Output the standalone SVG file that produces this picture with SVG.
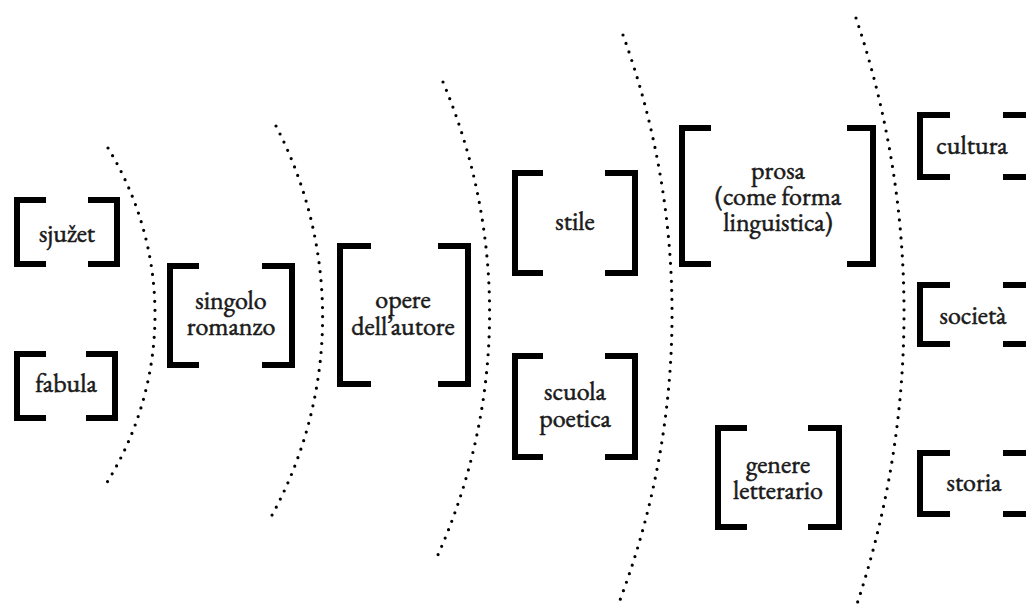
<svg xmlns="http://www.w3.org/2000/svg" width="1026" height="612" viewBox="0 0 1026 612">
<style>
.br{fill:none;stroke:#000;stroke-width:6;stroke-linejoin:miter;stroke-linecap:butt}
.arc{fill:none;stroke:#000;stroke-width:3.2;stroke-linecap:round;stroke-dasharray:0 9}
.t{font-size:26px;fill:#1a1a1a;stroke:#1a1a1a;stroke-width:0.55;text-anchor:middle}
</style>
<rect width="1026" height="612" fill="#fff"/>
<g id="connectors">
<path class="arc" d="M108 148 A318 318 0 0 1 106 484"/>
<path class="arc" d="M276 126 A414 414 0 0 1 271 517"/>
<path class="arc" d="M443 82 A594 594 0 0 1 437 557"/>
<path class="arc" d="M623 35 A815 815 0 0 1 620 600"/>
<path class="arc" d="M856 18 A927 927 0 0 1 857 604"/>
</g>
<g font-family="EB Garamond, Liberation Serif, serif">
<g id="sjuzet">
<path class="br" d="M46 200 H17 V264 H46"/>
<path class="br" d="M88 200 H117 V264 H88"/>
<text class="t" x="67" y="242">sjužet</text>
</g>
<g id="fabula">
<path class="br" d="M46 354 H17 V418 H46"/>
<path class="br" d="M86 354 H115 V418 H86"/>
<text class="t" x="66" y="392">fabula</text>
</g>
<g id="singolo-romanzo">
<path class="br" d="M199 266 H170 V365 H199"/>
<path class="br" d="M262 266 H292 V365 H262"/>
<text class="t" x="231" y="309">singolo</text>
<text class="t" x="231" y="335">romanzo</text>
</g>
<g id="opere-autore">
<path class="br" d="M371 246 H340 V384 H371"/>
<path class="br" d="M438 246 H468 V384 H438"/>
<text class="t" x="403" y="308">opere</text>
<text class="t" x="403" y="335">dell’autore</text>
</g>
<g id="stile">
<path class="br" d="M543 173 H515 V273 H543"/>
<path class="br" d="M605 173 H635 V273 H605"/>
<text class="t" x="575" y="230">stile</text>
</g>
<g id="scuola-poetica">
<path class="br" d="M543 356 H515 V457 H543"/>
<path class="br" d="M605 356 H635 V457 H605"/>
<text class="t" x="575" y="400">scuola</text>
<text class="t" x="575" y="427">poetica</text>
</g>
<g id="prosa">
<path class="br" d="M711 128 H682 V264 H711"/>
<path class="br" d="M847 128 H873 V264 H847"/>
<text class="t" x="778" y="179">prosa</text>
<text class="t" x="778" y="205">(come forma</text>
<text class="t" x="778" y="231">linguistica)</text>
</g>
<g id="genere-letterario">
<path class="br" d="M747 428 H718 V527 H747"/>
<path class="br" d="M808 428 H839 V527 H808"/>
<text class="t" x="778" y="473">genere</text>
<text class="t" x="778" y="499">letterario</text>
</g>
<g id="cultura">
<path class="br" d="M950 115 H920 V177 H950"/>
<path class="br" d="M1003 115 H1032 V177 H1003"/>
<text class="t" x="972" y="154">cultura</text>
</g>
<g id="societa">
<path class="br" d="M950 285 H920 V344 H950"/>
<path class="br" d="M1003 285 H1032 V344 H1003"/>
<text class="t" x="973" y="324">società</text>
</g>
<g id="storia">
<path class="br" d="M950 453 H920 V514 H950"/>
<path class="br" d="M1003 453 H1032 V514 H1003"/>
<text class="t" x="974" y="491">storia</text>
</g>
</g>
</svg>
